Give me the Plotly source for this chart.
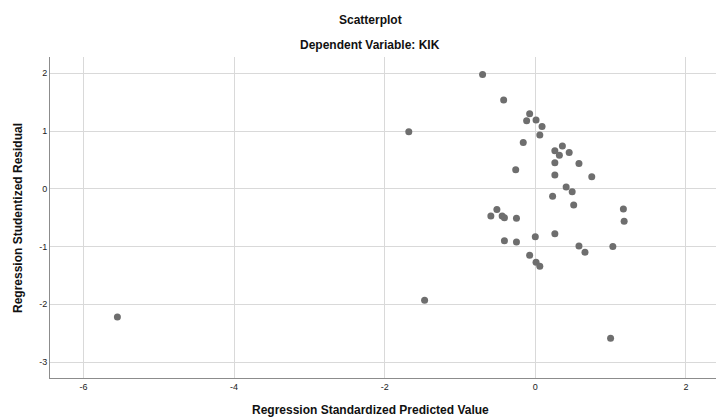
import plotly.graph_objects as go

pred = [-0.70, -0.42, -0.075, -0.115, 0.01, 0.09, 0.06, -0.16, 0.36, 0.26,
        0.32, 0.45, 0.26, 0.58, -0.26, 0.26, 0.75, 0.41, 0.49, 0.23,
        0.51, 1.17, 1.18, -0.51, -0.59, -0.44, -0.41, -0.25, -0.41, -0.25,
        0.00, 0.26, -0.075, 0.01, 0.06, 0.58, 0.66, 1.03, 1.00, -1.68,
        -1.47, -5.55]
resid = [1.98, 1.54, 1.30, 1.18, 1.19, 1.08, 0.93, 0.80, 0.74, 0.66,
         0.58, 0.63, 0.45, 0.44, 0.33, 0.24, 0.21, 0.03, -0.05, -0.13,
         -0.28, -0.35, -0.56, -0.36, -0.47, -0.47, -0.50, -0.51, -0.90, -0.92,
         -0.83, -0.78, -1.15, -1.27, -1.34, -0.99, -1.10, -1.00, -2.59, 0.99,
         -1.93, -2.22]

x_ticks = [-6, -4, -2, 0, 2]
y_ticks = [-3, -2, -1, 0, 1, 2]

fig = go.Figure(go.Scatter(
    x=pred, y=resid, mode="markers",
    marker=dict(color="#6e6e6e", size=7, line=dict(width=0)),
    hoverinfo="skip"))

font = "Liberation Sans, Arial, sans-serif"
W, H, L, R, T, B = 716, 418, 50, 0, 57, 40
fig.update_layout(
    width=W, height=H,
    margin=dict(l=L, r=R, t=T, b=B, pad=0),
    paper_bgcolor="white", plot_bgcolor="white",
    showlegend=False,
    font=dict(family=font, color="#222222", size=10),
    xaxis=dict(range=[-6.445, 2.40], tickvals=x_ticks, ticktext=[str(v) for v in x_ticks],
               showgrid=True, gridcolor="#d9d9d9", gridwidth=1, zeroline=False,
               showline=True, linecolor="#8c8c8c", linewidth=1, ticks="",
               tickfont=dict(size=9, color="#222222")),
    yaxis=dict(range=[-3.277, 2.283], tickvals=y_ticks, ticktext=[str(v) for v in y_ticks],
               showgrid=True, gridcolor="#d9d9d9", gridwidth=1, zeroline=False,
               showline=True, linecolor="#8c8c8c", linewidth=1, ticks="",
               tickfont=dict(size=9, color="#222222")),
)

pw, ph = W - L - R, H - T - B


def ann(text, px, py, angle=0):
    # px, py are pixel positions from the top-left of the page
    return dict(text=text, x=(px - L) / pw, y=(H - py - B) / ph,
                xref="paper", yref="paper", xanchor="center", yanchor="middle",
                showarrow=False, textangle=angle,
                font=dict(size=12, color="#111111", family=font))


fig.update_layout(annotations=[
    ann("<b>Scatterplot</b>", 370, 20),
    ann("<b>Dependent Variable: KIK</b>", 370, 45),
    ann("<b>Regression Standardized Predicted Value</b>", 370, 410),
    ann("<b>Regression Studentized Residual</b>", 18, 218, -90),
])

fig.write_html("out.html", config={"displayModeBar": False},
               post_script="document.body.style.margin='0';document.body.style.padding='0';")
